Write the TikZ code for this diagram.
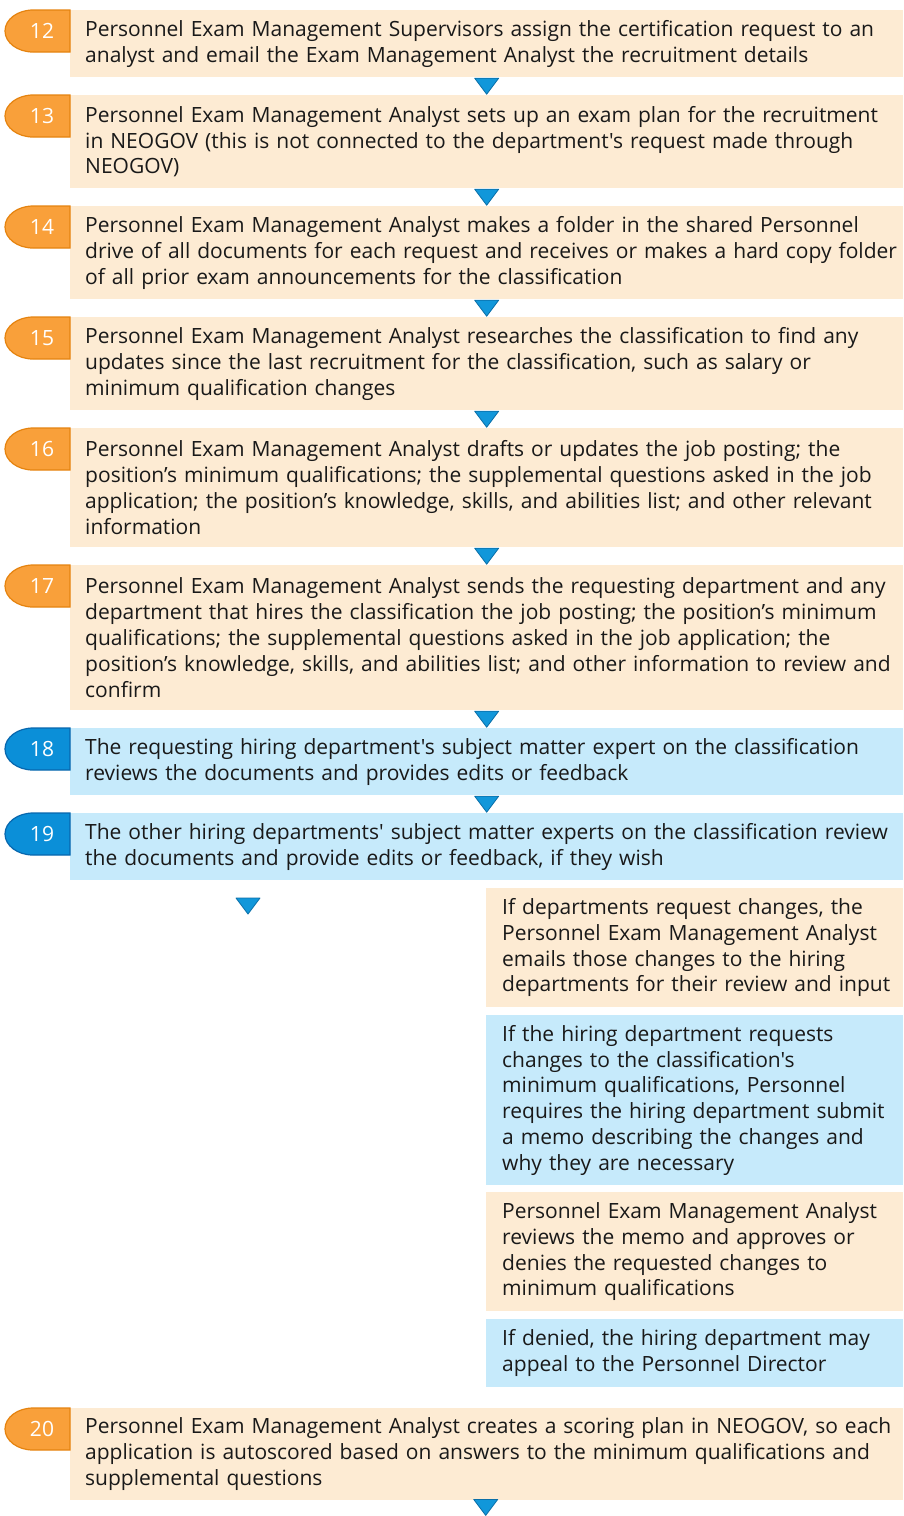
\documentclass[tikz,border=0pt]{standalone}
\usepackage{fontspec}
\setmainfont{Open Sans}[Ligatures=TeXOff]
\usetikzlibrary{calc,positioning}

\definecolor{peach}{HTML}{FDEBD3}
\definecolor{sky}{HTML}{C6EAFB}
\definecolor{tagorange}{HTML}{F9A03A}
\definecolor{tagorangeline}{HTML}{E5830F}
\definecolor{tagblue}{HTML}{0B8FD8}
\definecolor{tagblueline}{HTML}{0767AE}
\definecolor{arrowblue}{HTML}{1197DA}
\definecolor{arrowline}{HTML}{0A6FA8}

\begin{document}
\begin{tikzpicture}
  [x=1pt, y=-1pt,
   every node/.style={font=\fontsize{21}{25.8}\selectfont, text=black!90},
   stepbox/.style={anchor=north west, inner xsep=0pt, inner ysep=0pt, text width=833pt,
     execute at begin node={\raggedright\leftskip=15pt\rightskip=0pt plus 1fil}},
   sidebox/.style={anchor=north west, inner xsep=0pt, inner ysep=0pt, text width=417pt,
     execute at begin node={\raggedright\leftskip=16pt\rightskip=0pt plus 1fil}},
   marker/.style={fill=arrowblue, draw=arrowline, line width=0.8pt, line join=round}]

  \useasboundingbox (0,0) rectangle (903,1516);

  % main column of steps
  \node [stepbox, fill=peach, minimum height=67pt] (b12) at (70,10)
    {Personnel Exam Management Supervisors assign the certification request to an\\
     analyst and email the Exam Management Analyst the recruitment details};
  \node [stepbox, fill=peach, minimum height=93pt] (b13) at (70,95)
    {Personnel Exam Management Analyst sets up an exam plan for the recruitment\\
     in NEOGOV (this is not connected to the department's request made through\\
     NEOGOV)};
  \node [stepbox, fill=peach, minimum height=93pt] (b14) at (70,206)
    {Personnel Exam Management Analyst makes a folder in the shared Personnel\\
     drive of all documents for each request and receives or makes a hard copy folder\\
     of all prior exam announcements for the classification};
  \node [stepbox, fill=peach, minimum height=93pt] (b15) at (70,317)
    {Personnel Exam Management Analyst researches the classification to find any\\
     updates since the last recruitment for the classification, such as salary or\\
     minimum qualification changes};
  \node [stepbox, fill=peach, minimum height=119pt] (b16) at (70,428)
    {Personnel Exam Management Analyst drafts or updates the job posting; the\\
     position’s minimum qualifications; the supplemental questions asked in the job\\
     application; the position’s knowledge, skills, and abilities list; and other relevant\\
     information};
  \node [stepbox, fill=peach, minimum height=145pt] (b17) at (70,565)
    {Personnel Exam Management Analyst sends the requesting department and any\\
     department that hires the classification the job posting; the position’s minimum\\
     qualifications; the supplemental questions asked in the job application; the\\
     position’s knowledge, skills, and abilities list; and other information to review and\\
     confirm};
  \node [stepbox, fill=sky, minimum height=67pt] (b18) at (70,728)
    {The requesting hiring department's subject matter expert on the classification\\
     reviews the documents and provides edits or feedback};
  \node [stepbox, fill=sky, minimum height=67pt] (b19) at (70,813)
    {The other hiring departments' subject matter experts on the classification review\\
     the documents and provide edits or feedback, if they wish};

  % side notes
  \node [sidebox, fill=peach, minimum height=119pt] (sa) at (486,888)
    {If departments request changes, the\\
     Personnel Exam Management Analyst\\
     emails those changes to the hiring\\
     departments for their review and input};
  \node [sidebox, fill=sky, minimum height=170pt] (sb) at (486,1015)
    {If the hiring department requests\\
     changes to the classification's\\
     minimum qualifications, Personnel\\
     requires the hiring department submit\\
     a memo describing the changes and\\
     why they are necessary};
  \node [sidebox, fill=peach, minimum height=119pt] (sc) at (486,1192)
    {Personnel Exam Management Analyst\\
     reviews the memo and approves or\\
     denies the requested changes to\\
     minimum qualifications};
  \node [sidebox, fill=sky, minimum height=68pt] (sd) at (486,1319)
    {If denied, the hiring department may\\
     appeal to the Personnel Director};

  \node [stepbox, fill=peach, minimum height=92pt] (b20) at (70,1408)
    {Personnel Exam Management Analyst creates a scoring plan in NEOGOV, so each\\
     application is autoscored based on answers to the minimum qualifications and\\
     supplemental questions};

  % number tags
  \foreach \num/\top/\fillc/\linec in {12/10/tagorange/tagorangeline,
      13/95/tagorange/tagorangeline, 14/206/tagorange/tagorangeline,
      15/317/tagorange/tagorangeline, 16/428/tagorange/tagorangeline,
      17/565/tagorange/tagorangeline, 18/728/tagblue/tagblueline,
      19/813/tagblue/tagblueline, 20/1408/tagorange/tagorangeline}
  {
    \draw [fill=\fillc, draw=\linec, line width=1.2pt]
      (70,\top) -- (33,\top) arc [start angle=90, end angle=270,
      x radius=28pt, y radius=21pt] -- (70,\top+42) -- cycle;
    \node [text=white] (n\num) at (42,\top+21) {\num};
  }

  % down markers
  \foreach \a/\b in {b12/b13,b13/b14,b14/b15,b15/b16,b16/b17,b17/b18,b18/b19}
    \draw [marker] ($(\a.south)!.5!(\b.north)$) ++(-12,-8) -- ++(24,0) -- ++(-12,16) -- cycle;

  \coordinate (c19) at (248,906);
  \draw [marker] (c19) ++(-12,-8) -- ++(24,0) -- ++(-12,16) -- cycle;

  \coordinate (c20) at ($(b20.south)+(-1,7)$);
  \draw [marker] (c20) ++(-12,-8) -- ++(24,0) -- ++(-12,16) -- cycle;

\end{tikzpicture}
\end{document}
